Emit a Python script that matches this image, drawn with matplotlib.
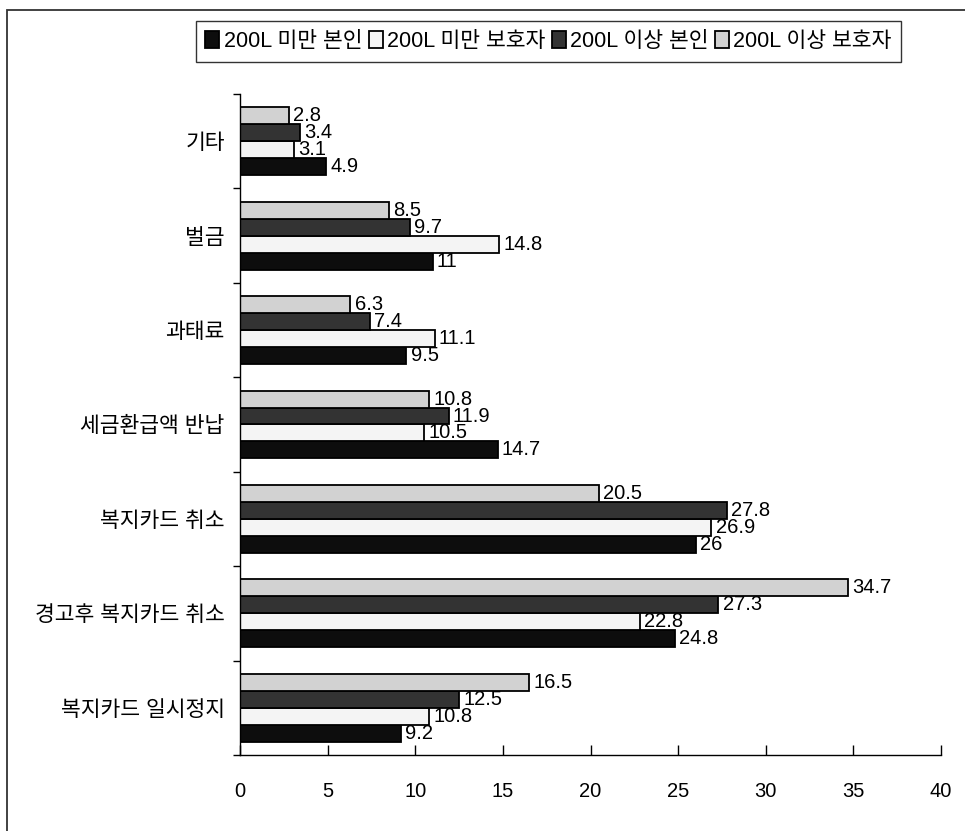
import matplotlib
matplotlib.use("Agg")
import matplotlib.pyplot as plt
from matplotlib.patches import Rectangle
import numpy as np

plt.rcParams['font.family'] = ['Liberation Sans', 'Noto Sans CJK KR', 'DejaVu Sans']

# categories listed bottom to top
categories = ['복지카드 일시정지', '경고후 복지카드 취소', '복지카드 취소', '세금환급액 반납',
              '과태료', '벌금', '기타']
series_names = ['200L 미만 본인', '200L 미만 보호자', '200L 이상 본인', '200L 이상 보호자']
under_self = [9.2, 24.8, 26, 14.7, 9.5, 11, 4.9]
under_guard = [10.8, 22.8, 26.9, 10.5, 11.1, 14.8, 3.1]
over_self = [12.5, 27.3, 27.8, 11.9, 7.4, 9.7, 3.4]
over_guard = [16.5, 34.7, 20.5, 10.8, 6.3, 8.5, 2.8]
x_ticks = [0, 5, 10, 15, 20, 25, 30, 35, 40]

series = [under_self, under_guard, over_self, over_guard]
colors = ['#0d0d0d', '#f4f4f4', '#333333', '#d2d2d2']

fig = plt.figure(figsize=(9.65, 8.31), dpi=100)
ax = fig.add_axes([240/965, 1-755/831, (941-240)/965, (755-94)/831])

n = len(categories)
bh = 0.18
y0 = np.arange(n)
handles = []
for i, (vals, c) in enumerate(zip(series, colors)):
    ypos = y0 + (i - 1.5) * bh
    b = ax.barh(ypos, vals, height=bh, color=c, edgecolor='black', linewidth=1.3,
                label=series_names[i])
    handles.append(b)
    for yy, v in zip(ypos, vals):
        ax.annotate(f'{v:g}', (v, yy), xytext=(3, 0), textcoords='offset points',
                    va='center', ha='left', fontsize=14.5)

ax.set_xlim(0, 40)
ax.set_ylim(-0.5, n - 0.5)
ax.set_xticks(x_ticks)
ax.set_xticklabels([str(t) for t in x_ticks], fontsize=14.5)
ax.tick_params(axis='x', direction='in', length=7, width=1, pad=19.5)
ax.set_yticks(y0)
ax.set_yticklabels(categories, fontsize=15.5)
ax.tick_params(axis='y', length=0, pad=11)
ax.set_yticks(np.arange(n + 1) - 0.5, minor=True)
ax.tick_params(axis='y', which='minor', direction='out', length=5, width=1)
for s in ['top', 'right']:
    ax.spines[s].set_visible(False)
for s in ['left', 'bottom']:
    ax.spines[s].set_linewidth(1)

leg = fig.legend(handles, series_names, loc='center', bbox_to_anchor=((190+907)/2/965, 1-41.5/831),
                 ncol=4, fontsize=15.5, frameon=True, fancybox=False, edgecolor='black',
                 handlelength=0.65, handleheight=0.85, handletextpad=0.2, columnspacing=0.3,
                 borderpad=0.45, borderaxespad=0)
leg.get_frame().set_linewidth(1)

fig.patches.append(Rectangle((7/965, -0.1), 1.2, 1.1 - 10/831,
                             transform=fig.transFigure, fill=False, edgecolor='#333333',
                             linewidth=1.3))

fig.savefig('out.png', dpi=100)
